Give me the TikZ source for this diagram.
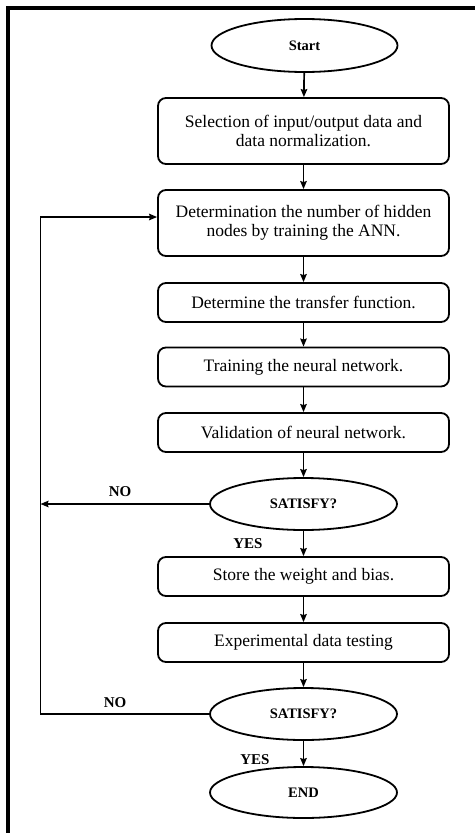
\documentclass[tikz,border=0pt]{standalone}
\usepackage{fontspec}
\setmainfont{Liberation Serif}
\usetikzlibrary{shapes.geometric,arrows.meta}
\begin{document}
\begin{tikzpicture}[x=1pt,y=-1pt,
  proc/.style={draw,line width=1.8pt,rounded corners=8pt,minimum width=291pt,inner sep=0pt,align=center,
    font=\fontsize{17.5}{19}\selectfont},
  term/.style={draw,line width=1.8pt,ellipse,minimum width=187pt,minimum height=52pt,inner sep=0pt,
    font=\fontsize{14.5}{16}\selectfont\bfseries},
  lab/.style={font=\fontsize{15}{16}\selectfont\bfseries,inner sep=0pt},
  arr/.style={line width=1.7pt,-{Stealth[length=8pt,width=6.5pt,inset=1pt]}},
  ln/.style={line width=1.7pt}]
\useasboundingbox (0,0) rectangle (475,833);
\draw[line width=3.2pt] (8,833) -- (8,8) -- (475,8);

\node[term,minimum width=186pt,minimum height=53pt] (start) at (304.5,45.5) {Start};
\node[proc,minimum height=66pt] (b1) at (303.5,131) {Selection of input/output data and\\data normalization.};
\node[proc,minimum height=66pt] (b2) at (303.5,223) {Determination the number of hidden\\nodes by training the ANN.};
\node[proc,minimum height=39pt] (b3) at (303.5,302.5) {Determine the transfer function.};
\node[proc,minimum height=39pt] (b4) at (303.5,367) {Training the neural network.};
\node[proc,minimum height=39pt] (b5) at (303.5,432.5) {Validation of neural network.};
\node[term] (s1) at (303.5,504) {SATISFY?};
\node[proc,minimum height=39pt] (b6) at (303.5,576.5) {Store the weight and bias.};
\node[proc,minimum height=39pt] (b7) at (303.5,642.5) {Experimental data testing};
\node[term] (s2) at (303.5,714) {SATISFY?};
\node[term,minimum height=51pt] (end) at (303.5,792.5) {END};

\coordinate (l1) at (40.5,504);
\coordinate (l2) at (40.5,714);
\coordinate (l0) at (40.5,217);

\draw[arr] (start) -- (b1);
\draw[arr] (b1) -- (b2);
\draw[arr] (b2) -- (b3);
\draw[arr] (b3) -- (b4);
\draw[arr] (b4) -- (b5);
\draw[arr] (b5) -- (s1);
\draw[arr] (s1) -- (b6);
\draw[arr] (b6) -- (b7);
\draw[arr] (b7) -- (s2);
\draw[arr] (s2) -- (end);

\draw[arr] (s1.west) -- (l1);
\draw[ln] (s2.west) -- (l2) -- (l1);
\draw[arr] (l1) -- (l0) -- (l0 -| b2.west);

\node[lab] (no1) at (120,492) {NO};
\node[lab] (no2) at (115,703) {NO};
\node[lab] (yes1) at (248,544) {YES};
\node[lab] (yes2) at (255,760) {YES};
\end{tikzpicture}
\end{document}
